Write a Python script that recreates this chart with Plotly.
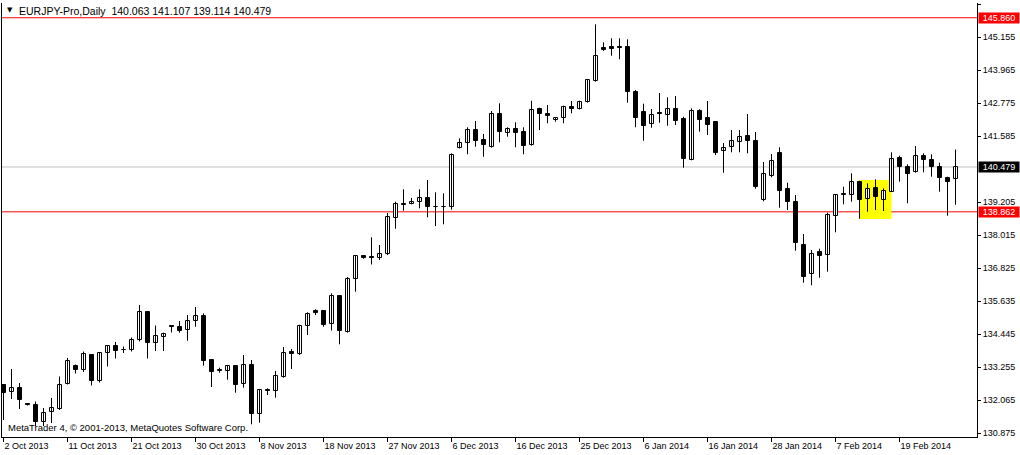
import plotly.graph_objects as go

# ---------------- data ----------------
opens = [132.617,132.364,132.509,131.932,131.896,131.301,131.643,131.769,132.653,133.302,
         133.158,133.699,132.761,133.771,134.023,133.897,133.897,134.222,135.249,134.149,
         134.337,134.734,134.698,134.589,134.914,135.105,133.518,133.147,133.133,133.291,
         132.642,133.327,131.582,132.447,132.390,132.916,133.807,133.746,134.734,135.285,
         135.285,134.806,135.837,134.539,136.428,137.269,137.222,137.186,137.330,138.657,
         139.144,139.144,139.205,139.349,139.043,139.036,139.018,141.152,141.333,141.812,
         141.452,141.210,142.378,141.693,141.848,141.729,141.271,142.569,142.378,142.162,
         142.234,142.631,142.559,142.811,143.579,144.758,144.794,144.823,144.805,143.182,
         142.461,142.018,142.425,142.342,142.569,142.209,140.741,142.497,142.245,142.101,
         141.044,141.188,141.369,141.596,141.416,139.277,140.153,140.972,139.674,139.216,
         137.665,136.609,137.402,137.294,138.700,139.504,139.457,139.926,139.313,139.732,
         139.299,139.587,140.792,140.489,140.309,140.875,140.720,140.467,140.070,140.063]
highs = [132.653,133.194,132.689,131.968,132.022,131.788,132.148,132.923,133.591,133.356,
         133.825,133.735,133.789,134.059,134.167,134.005,134.330,135.502,135.267,134.762,
         134.503,134.780,134.925,135.141,135.430,135.202,133.544,133.241,133.338,133.302,
         133.699,133.518,132.473,132.498,133.122,133.987,133.915,134.791,135.238,135.347,
         135.321,135.923,135.844,136.511,137.294,137.294,137.943,137.665,138.819,139.227,
         139.674,139.360,139.674,140.009,139.566,139.530,140.972,141.513,141.910,142.137,
         141.668,142.497,142.775,141.910,142.090,141.910,142.869,142.616,142.714,142.270,
         142.688,142.858,142.869,143.640,145.624,144.975,145.119,145.119,145.083,143.255,
         142.761,142.569,143.146,142.991,143.038,142.292,142.595,142.559,142.858,142.137,
         141.343,141.812,141.812,142.389,141.740,140.658,140.947,141.188,139.912,139.468,
         138.062,137.485,137.532,138.830,139.504,139.768,140.251,139.984,139.890,140.034,
         139.710,141.008,140.886,140.575,141.235,140.972,140.936,140.633,140.128,141.107]
lows = [131.355,132.112,131.751,131.878,131.138,131.138,131.247,131.715,132.635,133.032,
        133.086,132.599,132.707,133.284,133.572,133.771,133.825,134.186,133.572,133.843,
        133.843,134.510,134.503,134.214,134.719,133.313,132.545,133.060,132.808,132.339,
        132.520,131.200,131.257,132.256,132.159,132.880,133.194,133.699,134.420,135.141,
        134.719,134.582,134.085,134.503,135.981,137.171,136.962,137.124,137.305,138.253,
        138.902,139.133,138.989,138.664,138.350,138.412,138.938,141.145,140.936,141.210,
        140.849,141.174,141.369,141.571,141.188,140.936,141.246,141.812,142.054,142.111,
        142.054,142.414,142.552,142.797,143.554,144.661,144.491,144.362,142.797,141.910,
        141.426,141.895,142.075,141.967,141.992,140.453,140.720,141.751,141.632,140.911,
        140.272,141.008,141.008,140.972,139.695,139.241,140.107,139.010,138.927,137.460,
        136.306,136.212,136.486,136.703,138.123,139.133,139.227,138.614,138.866,138.927,
        138.891,139.576,139.948,139.169,140.272,140.287,140.128,139.587,138.722,139.114]
closes = [132.328,132.509,132.076,131.896,131.301,131.625,131.788,132.635,133.500,133.158,
          133.735,132.779,133.771,134.023,133.861,133.879,134.222,135.249,134.131,134.384,
          134.456,134.698,134.575,134.914,135.105,133.493,133.097,133.111,133.291,132.628,
          133.327,131.582,132.437,132.390,132.931,133.760,133.753,134.744,135.166,135.224,
          134.780,135.837,134.575,136.428,137.269,137.186,137.207,137.330,138.664,139.133,
          139.097,139.227,139.349,139.018,139.025,139.025,140.900,141.333,141.812,141.426,
          141.271,142.378,141.751,141.848,141.715,141.246,142.533,142.378,142.328,142.256,
          142.631,142.580,142.811,143.604,144.470,144.708,144.744,144.787,143.193,142.256,
          141.967,142.353,142.378,142.559,142.148,140.777,142.497,142.173,142.003,140.994,
          141.152,141.416,141.549,141.426,139.767,140.215,140.684,139.623,139.205,137.748,
          136.522,137.330,137.279,138.747,139.457,139.457,139.926,139.299,139.685,139.407,
          139.623,140.756,140.489,140.236,140.875,140.720,140.467,140.070,139.948,140.479]

date_labels = ["2 Oct 2013", "11 Oct 2013", "21 Oct 2013", "30 Oct 2013", "8 Nov 2013",
               "18 Nov 2013", "27 Nov 2013", "6 Dec 2013", "16 Dec 2013", "25 Dec 2013",
               "6 Jan 2014", "16 Jan 2014", "28 Jan 2014", "7 Feb 2014", "19 Feb 2014"]
label_step = 8

price_ticks = [146.345, 145.155, 143.965, 142.775, 141.585, 139.205, 138.015,
               136.825, 135.635, 134.445, 133.255, 132.065, 130.875]

level_high = 145.860
level_low = 138.862
bid_price = 140.479

# highlighted box (bar index range, price range)
box_bars = [107, 111]
box_prices = [138.603, 140.009]

title_text = "EURJPY-Pro,Daily  140.063 141.107 139.114 140.479"
footer_text = "MetaTrader 4, \u00a9 2001-2013, MetaQuotes Software Corp."

# ---------------- figure ----------------
n = len(opens)
idx = list(range(n))
FONT = "Liberation Sans"

wx, wy = [], []
for i in idx:
    wx += [i, i, None]
    wy += [lows[i], highs[i], None]

bases = [min(o, c) for o, c in zip(opens, closes)]
heights = [max(abs(c - o), 0.012) for o, c in zip(opens, closes)]
fills = ["white" if c >= o else "black" for o, c in zip(opens, closes)]

fig = go.Figure()
fig.add_trace(go.Scatter(x=wx, y=wy, mode="lines",
                         line=dict(color="black", width=1),
                         hoverinfo="skip", showlegend=False))
fig.add_trace(go.Bar(x=idx, y=heights, base=bases, width=0.5,
                     marker=dict(color=fills, line=dict(color="black", width=1)),
                     hoverinfo="skip", showlegend=False))

# highlight rectangle
fig.add_shape(type="rect", xref="x", yref="y",
              x0=box_bars[0], x1=box_bars[1], y0=box_prices[0], y1=box_prices[1],
              fillcolor="#ffff00", line=dict(width=0), layer="below")
# level lines
for lv, col in [(level_high, "#ff0000"), (bid_price, "#c0c0c0"), (level_low, "#ff0000")]:
    fig.add_shape(type="line", xref="paper", yref="y", x0=0, x1=1, y0=lv, y1=lv,
                  line=dict(color=col, width=1), layer="below")

# price label boxes
for lv, bg in [(level_high, "#ff0000"), (bid_price, "#000000"), (level_low, "#ff0000")]:
    fig.add_annotation(xref="paper", yref="y", x=1, y=lv, xanchor="left", yanchor="middle",
                       xshift=1, text=f"{lv:.3f}", showarrow=False, bgcolor=bg,
                       borderpad=0, width=40, height=10, align="center",
                       font=dict(family=FONT, size=9, color="white"))

tick_pos = [i * label_step for i in range(len(date_labels))]

fig.add_annotation(xref="paper", yref="paper", x=0.003, y=0.997, xanchor="left",
                   yanchor="top", text="\u25bc", showarrow=False,
                   font=dict(family="DejaVu Sans", size=7, color="black"))
fig.add_annotation(xref="paper", yref="paper", x=0.015, y=1.0, xanchor="left",
                   yanchor="top", text=title_text, showarrow=False,
                   font=dict(family=FONT, size=10.5, color="black"))
fig.add_annotation(xref="paper", yref="paper", x=0.004, y=0.004, xanchor="left",
                   yanchor="bottom", text=footer_text, showarrow=False,
                   font=dict(family=FONT, size=9.5, color="black"))

fig.update_layout(
    width=1020, height=455,
    margin=dict(l=2, r=43, t=3, b=18, autoexpand=False),
    paper_bgcolor="white", plot_bgcolor="white",
    bargap=0, showlegend=False,
    xaxis=dict(range=[-0.1875, 121.6875], showgrid=False, zeroline=False,
               tickmode="array", tickvals=tick_pos, ticktext=date_labels,
               tickangle=0, automargin=False,
               ticks="outside", ticklen=4, tickcolor="black",
               ticklabelposition="outside right",
               showline=True, linecolor="black", linewidth=1, mirror=False,
               tickfont=dict(family=FONT, size=9, color="black")),
    yaxis=dict(range=[130.742, 146.392], side="right", showgrid=False, zeroline=False,
               tickmode="array", tickvals=price_ticks, automargin=False,
               ticktext=[f"{v:.3f}" for v in price_ticks],
               ticks="outside", ticklen=3, tickcolor="black",
               showline=True, linecolor="black", linewidth=1, mirror=True,
               tickfont=dict(family=FONT, size=9, color="black")),
)

fig.write_html("out.html",
               config={"displayModeBar": False},
               post_script="document.body.style.margin='0';"
                           "document.body.style.overflow='hidden';")
